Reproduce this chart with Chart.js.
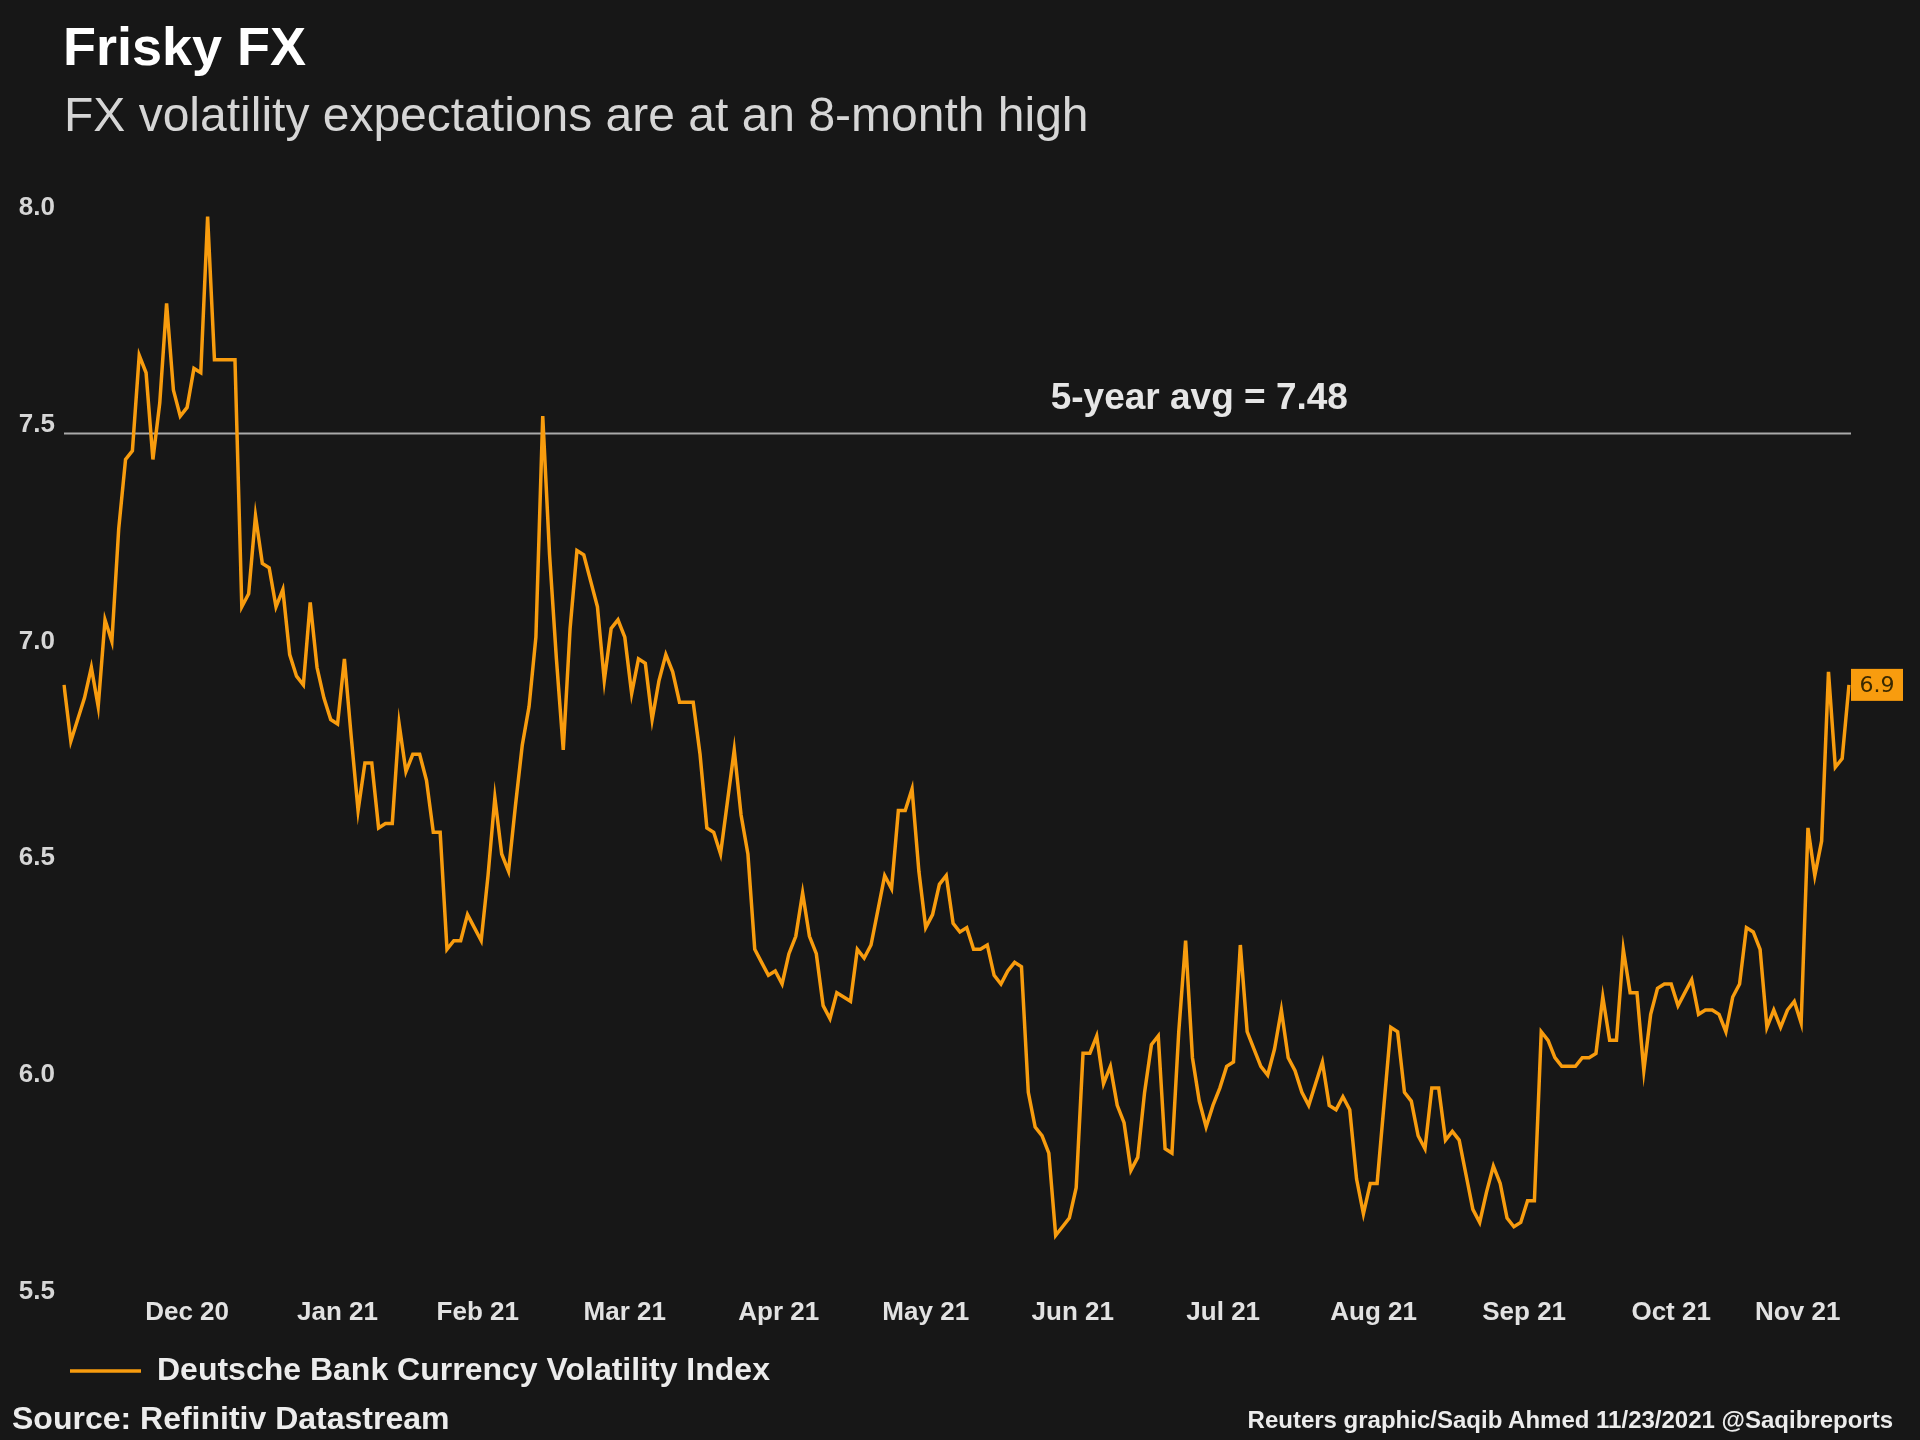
<!DOCTYPE html>
<html>
<head>
<meta charset="utf-8">
<title>Frisky FX</title>
<script src="https://cdn.jsdelivr.net/npm/chart.js@4.4.1/dist/chart.umd.min.js"></script>
<style>
  html, body { margin: 0; padding: 0; background: #171717; }
  body { width: 1920px; height: 1440px; position: relative; overflow: hidden;
         font-family: "Liberation Sans", Arial, sans-serif; }
  #chartBox { position: absolute; left: 0; top: 0; width: 1920px; height: 1440px; }
  .txt { position: absolute; line-height: 1; white-space: nowrap; }
  .title { left: 63px; top: 19px; font-size: 54px; font-weight: bold; color: #ffffff; }
  .subtitle { left: 64px; top: 91px; font-size: 48px; color: #d6d6d6; }
  .source { left: 12px; top: 1402px; font-size: 32px; font-weight: bold; color: #ececec; }
  .credit { right: 27px; top: 1408px; font-size: 24px; font-weight: bold; color: #ececec; }
</style>
</head>
<body>
<div id="chartBox"><canvas id="fxChart" width="1920" height="1440"></canvas></div>
<div class="txt title">Frisky FX</div>
<div class="txt subtitle">FX volatility expectations are at an 8-month high</div>
<div class="txt source">Source: Refinitiv Datastream</div>
<div class="txt credit">Reuters graphic/Saqib Ahmed 11/23/2021 @Saqibreports</div>

<script>
// Deutsche Bank Currency Volatility Index, daily (weekdays) 20 Nov 2020 - 22 Nov 2021
const seriesName = 'Deutsche Bank Currency Volatility Index';
const volValues = [
    6.90, 6.77, 6.82, 6.87, 6.94, 6.85, 7.05, 7.00, 7.26, 7.42,
    7.44, 7.66, 7.62, 7.42, 7.55, 7.78, 7.58, 7.52, 7.54, 7.63,
    7.62, 7.98, 7.65, 7.65, 7.65, 7.65, 7.08, 7.11, 7.29, 7.18,
    7.17, 7.08, 7.12, 6.97, 6.92, 6.90, 7.09, 6.94, 6.87, 6.82,
    6.81, 6.96, 6.78, 6.61, 6.72, 6.72, 6.57, 6.58, 6.58, 6.81,
    6.70, 6.74, 6.74, 6.68, 6.56, 6.56, 6.29, 6.31, 6.31, 6.37,
    6.34, 6.31, 6.46, 6.64, 6.51, 6.47, 6.62, 6.76, 6.85, 7.01,
    7.52, 7.20, 6.96, 6.75, 7.03, 7.21, 7.20, 7.14, 7.08, 6.91,
    7.03, 7.05, 7.01, 6.88, 6.96, 6.95, 6.82, 6.91, 6.97, 6.93,
    6.86, 6.86, 6.86, 6.74, 6.57, 6.56, 6.51, 6.63, 6.75, 6.60,
    6.51, 6.29, 6.26, 6.23, 6.24, 6.21, 6.28, 6.32, 6.42, 6.32,
    6.28, 6.16, 6.13, 6.19, 6.18, 6.17, 6.29, 6.27, 6.30, 6.38,
    6.46, 6.43, 6.61, 6.61, 6.66, 6.47, 6.34, 6.37, 6.44, 6.46,
    6.35, 6.33, 6.34, 6.29, 6.29, 6.30, 6.23, 6.21, 6.24, 6.26,
    6.25, 5.96, 5.88, 5.86, 5.82, 5.63, 5.65, 5.67, 5.74, 6.05,
    6.05, 6.09, 5.98, 6.02, 5.93, 5.89, 5.78, 5.81, 5.96, 6.07,
    6.09, 5.83, 5.82, 6.10, 6.31, 6.04, 5.94, 5.88, 5.93, 5.97,
    6.02, 6.03, 6.30, 6.10, 6.06, 6.02, 6.00, 6.06, 6.15, 6.04,
    6.01, 5.96, 5.93, 5.98, 6.03, 5.93, 5.92, 5.95, 5.92, 5.76,
    5.68, 5.75, 5.75, 5.93, 6.11, 6.10, 5.96, 5.94, 5.86, 5.83,
    5.97, 5.97, 5.85, 5.87, 5.85, 5.77, 5.69, 5.66, 5.73, 5.79,
    5.75, 5.67, 5.65, 5.66, 5.71, 5.71, 6.10, 6.08, 6.04, 6.02,
    6.02, 6.02, 6.04, 6.04, 6.05, 6.18, 6.08, 6.08, 6.29, 6.19,
    6.19, 6.01, 6.14, 6.20, 6.21, 6.21, 6.16, 6.19, 6.22, 6.14,
    6.15, 6.15, 6.14, 6.10, 6.18, 6.21, 6.34, 6.33, 6.29, 6.11,
    6.15, 6.11, 6.15, 6.17, 6.12, 6.57, 6.46, 6.54, 6.93, 6.71,
    6.73, 6.90
];
const fiveYearAvg = 7.48;
const lastValueLabel = '6.9';

const monthTickLabels = ['Dec 20', 'Jan 21', 'Feb 21', 'Mar 21', 'Apr 21', 'May 21',
                         'Jun 21', 'Jul 21', 'Aug 21', 'Sep 21', 'Oct 21', 'Nov 21'];
const yTickValues = [5.5, 6.0, 6.5, 7.0, 7.5, 8.0];

const lineColor = '#f89c0e';
const MONTHS = ['Jan', 'Feb', 'Mar', 'Apr', 'May', 'Jun', 'Jul', 'Aug', 'Sep', 'Oct', 'Nov', 'Dec'];

// Trading days (weekdays) covered by the series
const tradeDates = [];
for (let t = Date.UTC(2020, 10, 20); t <= Date.UTC(2021, 10, 22); t += 86400000) {
    const d = new Date(t);
    const wd = d.getUTCDay();
    if (wd !== 0 && wd !== 6) tradeDates.push(d);
}
function monthKey(d) {
    return MONTHS[d.getUTCMonth()] + ' ' + String(d.getUTCFullYear()).slice(2);
}

// Month labels sit in the middle of the days of that month
const monthTicks = monthTickLabels.map(label => {
    const idx = [];
    tradeDates.forEach((d, i) => { if (monthKey(d) === label) idx.push(i); });
    const pos = idx.reduce((a, b) => a + b, 0) / idx.length;
    return { label: label, pos: pos };
});

// 5-year average line plus its label
const avgLinePlugin = {
    id: 'avgLine',
    beforeDatasetsDraw(chart) {
        const { ctx, chartArea, scales } = chart;
        const y = scales.y.getPixelForValue(fiveYearAvg);
        ctx.save();
        ctx.strokeStyle = '#aaaaaa';
        ctx.lineWidth = 2;
        ctx.beginPath();
        ctx.moveTo(chartArea.left, y);
        ctx.lineTo(chartArea.right + 2, y);
        ctx.stroke();
        ctx.fillStyle = '#e6e6e6';
        ctx.font = 'bold 37px "Liberation Sans", Arial, sans-serif';
        ctx.textAlign = 'center';
        ctx.textBaseline = 'alphabetic';
        ctx.fillText('5-year avg = ' + fiveYearAvg.toFixed(2), scales.x.getPixelForValue(166), y - 24);
        ctx.restore();
    }
};

// Orange box with the latest value
const lastValuePlugin = {
    id: 'lastValue',
    afterDatasetsDraw(chart) {
        const meta = chart.getDatasetMeta(0);
        const pt = meta.data[meta.data.length - 1];
        if (!pt) return;
        const { ctx } = chart;
        ctx.save();
        ctx.fillStyle = lineColor;
        ctx.fillRect(pt.x + 2, pt.y - 16, 52, 32);
        ctx.fillStyle = '#3a2900';
        ctx.font = '22px "DejaVu Sans", sans-serif';
        ctx.textAlign = 'center';
        ctx.textBaseline = 'middle';
        ctx.fillText(lastValueLabel, pt.x + 28, pt.y + 1);
        ctx.restore();
    }
};

// Push the legend in so its line lines up with the plot
const legendShiftPlugin = {
    id: 'legendShift',
    afterLayout(chart) {
        if (chart.legend) {
            chart.legend.left += 48;
            chart.legend.right += 48;
        }
    }
};

Chart.defaults.font.family = '"Liberation Sans", Arial, sans-serif';

const ctx = document.getElementById('fxChart');
const fxChart = new Chart(ctx, {
    type: 'line',
    data: {
        labels: tradeDates.map(d => d.toISOString().slice(0, 10)),
        datasets: [{
            label: seriesName,
            data: volValues,
            borderColor: lineColor,
            backgroundColor: lineColor,
            borderWidth: 3.5,
            pointRadius: 0,
            tension: 0,
            fill: false
        }]
    },
    options: {
        responsive: false,
        devicePixelRatio: 1,
        animation: false,
        layout: { padding: { top: 208, right: 71, bottom: 43, left: 0 } },
        plugins: {
            legend: {
                position: 'bottom',
                align: 'start',
                labels: {
                    usePointStyle: true,
                    pointStyle: 'line',
                    pointStyleWidth: 71,
                    padding: 22,
                    color: '#ececec',
                    font: { size: 32, weight: 'bold' }
                }
            },
            tooltip: { enabled: false }
        },
        scales: {
            x: {
                grid: { display: false, drawTicks: false },
                border: { display: false },
                afterBuildTicks: scale => {
                    scale.ticks = monthTicks.map(m => ({ value: m.pos }));
                },
                ticks: {
                    autoSkip: false,
                    maxRotation: 0,
                    minRotation: 0,
                    padding: 5,
                    color: '#e2e2e2',
                    font: { size: 26, weight: 'bold' },
                    callback: (value, index) => monthTicks[index] ? monthTicks[index].label : ''
                }
            },
            y: {
                min: 5.5,
                max: 8.0,
                grid: { display: false, drawTicks: false },
                border: { display: false },
                afterBuildTicks: scale => {
                    scale.ticks = yTickValues.map(v => ({ value: v }));
                },
                afterFit: scale => { scale.width = 64; },
                ticks: {
                    padding: 9,
                    color: '#d6d6d6',
                    font: { size: 26, weight: 'bold' },
                    callback: v => Number(v).toFixed(1)
                }
            }
        }
    },
    plugins: [avgLinePlugin, lastValuePlugin, legendShiftPlugin]
});
</script>
</body>
</html>
